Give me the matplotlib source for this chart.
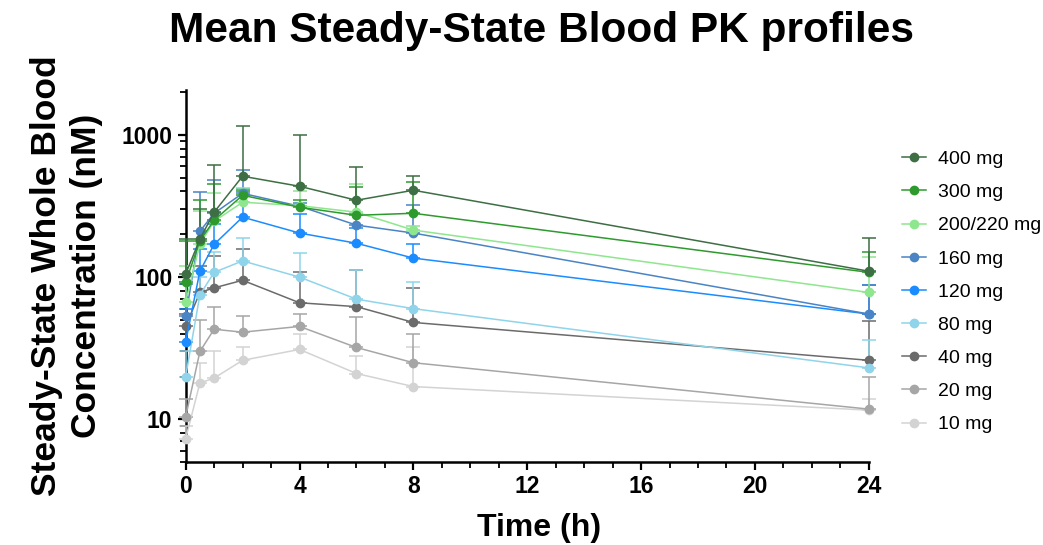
import numpy as np
import matplotlib
matplotlib.use("Agg")
import matplotlib.pyplot as plt
from matplotlib.ticker import FixedLocator, LogLocator, NullFormatter

plt.rcParams['font.family'] = ['Liberation Sans', 'DejaVu Sans']

time_h = [0, 0.5, 1, 2, 4, 6, 8, 24]

doses = ['400 mg', '300 mg', '200/220 mg', '160 mg', '120 mg',
         '80 mg', '40 mg', '20 mg', '10 mg']

colors = ['#3d6e44', '#2e9a2e', '#8ee68e', '#4a84c4', '#1a8cff',
          '#8fd4ea', '#6b6b6b', '#a6a6a6', '#d3d3d3']

# mean concentrations (nM)
mean_400 = [105, 185, 286, 512, 435, 347, 408, 110]
mean_300 = [92, 180, 251, 376, 310, 272, 281, 108]
mean_200 = [67, 170, 247, 336, 318, 286, 214, 78]
mean_160 = [53, 210, 281, 388, 315, 232, 204, 55]
mean_120 = [35, 110, 170, 264, 204, 173, 136, 55]
mean_80 = [20, 75, 108, 130, 100, 70, 60, 23]
mean_40 = [45, 78, 84, 95, 66, 62, 48, 26]
mean_20 = [10.4, 30, 43, 41, 45, 32, 25, 11.8]
mean_10 = [7.3, 18, 19.5, 26, 31, 21, 17, 11.6]

# upper error bar ends (mean + SD)
upper_400 = [185, 300, 611, 1148, 991, 592, 512, 188]
upper_300 = [180, 350, 450, 400, 350, 430, 470, 150]
upper_200 = [120, 290, 390, 420, 400, 450, 230, 138]
upper_160 = [90, 395, 480, 565, 330, 280, 320, 88]
upper_120 = [60, 157, 235, 414, 277, 220, 170, 88]
upper_80 = [30, 100, 150, 188, 147, 112, 92, 36]
upper_40 = [55, 120, 140, 157, 108, 112, 84, 49]
upper_20 = [14, 50, 62, 53, 55, 52, 40, 20]
upper_10 = [9, 25, 30, 32, 40, 28, 32, 14]

means = [mean_400, mean_300, mean_200, mean_160, mean_120,
         mean_80, mean_40, mean_20, mean_10]
uppers = [upper_400, upper_300, upper_200, upper_160, upper_120,
          upper_80, upper_40, upper_20, upper_10]

fig = plt.figure(figsize=(10.43, 5.45), dpi=100)
ax = fig.add_axes([0.178, 0.152, 0.655, 0.683])

# lowest dose first so the high doses sit on top
for i in reversed(range(len(doses))):
    m = np.array(means[i])
    up = np.array(uppers[i]) - m
    yerr = np.vstack([np.zeros_like(up), up])
    ax.errorbar(time_h, m, yerr=yerr, color=colors[i], marker='o',
                markersize=6, linewidth=1.1, elinewidth=1.1,
                capsize=5, capthick=1.1, clip_on=False, zorder=3)

ax.set_yscale('log')
ax.set_ylim(5, 2070)
ax.set_xlim(0, 24)

ax.xaxis.set_major_locator(FixedLocator([0, 4, 8, 12, 16, 20, 24]))
ax.xaxis.set_minor_locator(FixedLocator(np.arange(0, 25, 1)))
ax.yaxis.set_major_locator(FixedLocator([10, 100, 1000]))
ax.yaxis.set_minor_locator(LogLocator(base=10, subs=np.arange(2, 10)))
ax.yaxis.set_minor_formatter(NullFormatter())
ax.set_yticklabels(['10', '100', '1000'])

ax.spines['top'].set_visible(False)
ax.spines['right'].set_visible(False)
ax.spines['left'].set_linewidth(1.8)
ax.spines['bottom'].set_linewidth(1.8)
ax.tick_params(axis='both', which='major', length=6, width=1.6,
               labelsize=16.5)
ax.tick_params(axis='x', which='major', pad=3)
ax.tick_params(axis='both', which='minor', length=4, width=1.3)
for lab in ax.get_xticklabels() + ax.get_yticklabels():
    lab.set_fontweight('bold')

ax.set_xlabel('Time (h)', fontsize=23, fontweight='bold')
ax.xaxis.set_label_coords(0.518, -0.137)
ax.set_ylabel('Steady-State Whole Blood\nConcentration (nM)', fontsize=25.5,
              fontweight='bold', labelpad=13, linespacing=1.3)
fig.suptitle('Mean Steady-State Blood PK profiles', fontsize=30.5,
             fontweight='bold', x=0.519, y=0.98)

leg_handles = []
for c in colors:
    h, = ax.plot([], [], color=c, marker='o', markersize=6, linewidth=1.1)
    leg_handles.append(h)
fig.legend(leg_handles, doses, loc='upper left',
           bbox_to_anchor=(0.865, 0.724), frameon=False, fontsize=14,
           handlelength=1.2, labelspacing=0.8, handletextpad=0.62,
           borderpad=0, borderaxespad=0)

fig.savefig('out.png', dpi=100)
